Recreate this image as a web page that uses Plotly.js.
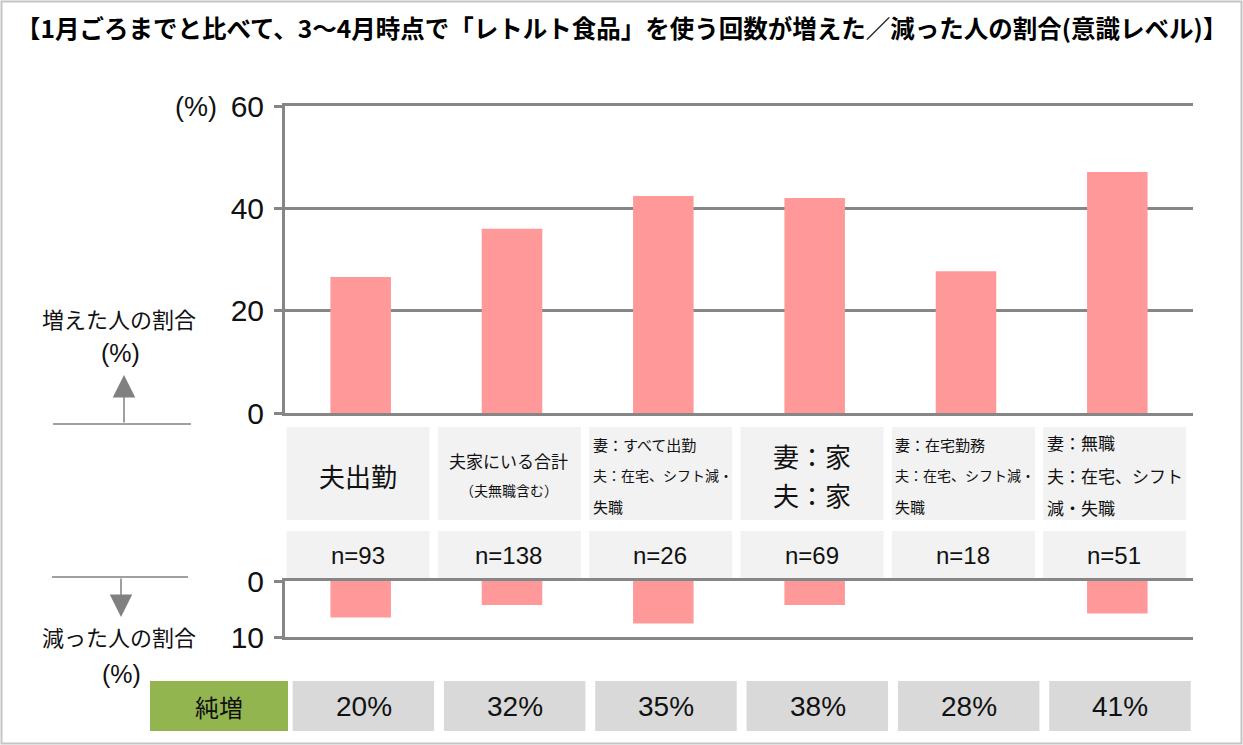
<!DOCTYPE html>
<html>
<head>
<meta charset="utf-8">
<script src="https://cdn.plot.ly/plotly-3.0.1.min.js"></script>
<style>
  html, body { margin: 0; padding: 0; background: #fff; }
  #chart { width: 1243px; height: 745px; }
</style>
</head>
<body>
<div id="chart"></div>
<script>
// data
const categories = ['夫出勤', '夫家にいる合計', '妻すべて出勤', '妻家・夫家', '妻在宅勤務', '妻無職'];
const catLines = [
    ['夫出勤'],
    ['夫家にいる合計', '（夫無職含む）'],
    ['妻：すべて出勤', '夫：在宅、シフト減・', '失職'],
    ['妻：家', '夫：家'],
    ['妻：在宅勤務', '夫：在宅、シフト減・', '失職'],
    ['妻：無職', '夫：在宅、シフト', '減・失職']
];
const increased = [26.6, 36.0, 42.4, 42.0, 27.7, 47.1];
const decreased = [6.5, 4.3, 7.6, 4.3, 0, 5.8];
const sampleSizes = [93, 138, 26, 69, 18, 51];
const netIncrease = ['20%', '32%', '35%', '38%', '28%', '41%'];
const upperTicks = [0, 20, 40, 60];
const lowerTicks = [0, 10];

// styles for the label boxes
const lineSizes = [[26], [17, 14], [15, 14, 15], [26, 26], [15, 14, 15], [17, 17, 17]];
const lineGap = [0, 30, 31, 39, 31, 33];
const lineAlign = ['center', 'center', 'left', 'center', 'left', 'left'];

const W = 1243, H = 745;
const px = x => x / W;
const py = y => 1 - y / H;

const GRID = '#868686';
const PINK = '#ff9999';
const SANS = '"Liberation Sans", Arial, sans-serif';
const JP = '"Noto Sans CJK JP", sans-serif';

const xs = categories.map((c, i) => i);

const traces = [
    {
        x: xs, y: increased, type: 'bar', xaxis: 'x', yaxis: 'y',
        marker: { color: PINK }, hoverinfo: 'skip'
    },
    {
        x: xs, y: decreased, type: 'bar', xaxis: 'x2', yaxis: 'y2',
        marker: { color: PINK }, hoverinfo: 'skip'
    }
];

const shapes = [];
const annotations = [];

// text helper, always anchored on its middle
function label(xref, x, y, text, font, xanchor) {
    annotations.push({
        xref: xref, yref: 'paper', x: x, y: py(y), text: text, showarrow: false,
        xanchor: xanchor || 'center', yanchor: 'middle', font: font
    });
}

// outer frame
shapes.push({ type: 'rect', xref: 'paper', yref: 'paper', x0: px(1.5), x1: px(1241.5), y0: py(743.5), y1: py(1.5),
    line: { color: '#c4c4c4', width: 2 }, fillcolor: 'rgba(0,0,0,0)' });

// title
label('paper', px(621), 27,
    '【1月ごろまでと比べて、3～4月時点で「レトルト食品」を使う回数が増えた／減った人の割合(意識レベル)】',
    { family: JP, size: 24.5, color: '#000', weight: 700 });

// category, n and net-increase boxes
categories.forEach((c, i) => {
    shapes.push({ type: 'rect', xref: 'x', yref: 'paper', x0: i - 0.49, x1: i + 0.455, y0: py(520), y1: py(427),
        fillcolor: '#f2f2f2', line: { width: 0 }, layer: 'below' });
    shapes.push({ type: 'rect', xref: 'x', yref: 'paper', x0: i - 0.49, x1: i + 0.455, y0: py(579), y1: py(531),
        fillcolor: '#f2f2f2', line: { width: 0 }, layer: 'below' });
    shapes.push({ type: 'rect', xref: 'x', yref: 'paper', x0: i - 0.45, x1: i + 0.485, y0: py(731), y1: py(681),
        fillcolor: '#d9d9d9', line: { width: 0 }, layer: 'below' });

    const lines = catLines[i];
    lines.forEach((t, j) => {
        const yy = 475 + (j - (lines.length - 1) / 2) * lineGap[i];
        const left = lineAlign[i] === 'left';
        label('x', left ? i - 0.48 : i - 0.02, yy, t,
            { family: JP, size: lineSizes[i][j], color: '#111' }, left ? 'left' : 'center');
    });

    label('x', i - 0.02, 555, 'n=' + sampleSizes[i], { family: SANS, size: 24, color: '#111' });
    label('x', i + 0.02, 706, netIncrease[i], { family: SANS, size: 28, color: '#111' });
});

// 純増 box
shapes.push({ type: 'rect', xref: 'paper', yref: 'paper', x0: px(150), x1: px(288), y0: py(731), y1: py(681),
    fillcolor: '#92b550', line: { width: 0 }, layer: 'below' });
label('paper', px(219), 706, '純増', { family: JP, size: 24, color: '#111' });

// unit label next to 60
label('paper', px(196), 107, '(%)', { family: SANS, size: 27, color: '#111' });

// left side legends with arrows
label('paper', px(119), 318, '増えた人の割合', { family: JP, size: 22, color: '#111' });
label('paper', px(120), 353, '(%)', { family: SANS, size: 25, color: '#111' });
annotations.push({ xref: 'paper', yref: 'paper', x: px(124), y: py(375), ax: 0, ay: 49, text: '',
    showarrow: true, arrowhead: 2, arrowsize: 3, arrowwidth: 1.5, arrowcolor: '#808080' });
shapes.push({ type: 'line', xref: 'paper', yref: 'paper', x0: px(53), x1: px(191), y0: py(424), y1: py(424),
    line: { color: '#808080', width: 1.5 } });

shapes.push({ type: 'line', xref: 'paper', yref: 'paper', x0: px(52), x1: px(188), y0: py(577), y1: py(577),
    line: { color: '#808080', width: 1.5 } });
annotations.push({ xref: 'paper', yref: 'paper', x: px(121), y: py(617), ax: 0, ay: -40, text: '',
    showarrow: true, arrowhead: 2, arrowsize: 3, arrowwidth: 1.5, arrowcolor: '#808080' });
label('paper', px(119), 636, '減った人の割合', { family: JP, size: 22, color: '#111' });
label('paper', px(121), 674, '(%)', { family: SANS, size: 25, color: '#111' });

const xCommon = {
    domain: [px(285), px(1193)], range: [-0.5, 5.5], showticklabels: false,
    showgrid: false, zeroline: false, showline: true, mirror: true,
    linecolor: GRID, linewidth: 3, fixedrange: true
};
const yCommon = {
    showgrid: true, gridcolor: GRID, gridwidth: 3, zeroline: false,
    showline: true, linecolor: GRID, linewidth: 3,
    ticks: 'outside', ticklen: 8, tickwidth: 3, tickcolor: GRID, ticklabelstandoff: 4,
    tickfont: { family: SANS, size: 30, color: '#111' }, fixedrange: true
};

const layout = {
    width: W, height: H,
    margin: { l: 0, r: 0, t: 0, b: 0 },
    paper_bgcolor: '#fff', plot_bgcolor: '#fff',
    showlegend: false, bargap: 0.6,
    xaxis: Object.assign({}, xCommon, { anchor: 'y' }),
    xaxis2: Object.assign({}, xCommon, { anchor: 'y2' }),
    yaxis: Object.assign({}, yCommon, { domain: [py(413), py(106)], range: [0, 60], tickvals: upperTicks, anchor: 'x' }),
    yaxis2: Object.assign({}, yCommon, { domain: [py(637), py(581)], range: [10, 0], tickvals: lowerTicks, anchor: 'x2' }),
    shapes: shapes,
    annotations: annotations
};

Plotly.newPlot('chart', traces, layout, { displayModeBar: false, staticPlot: true });
</script>
</body>
</html>
